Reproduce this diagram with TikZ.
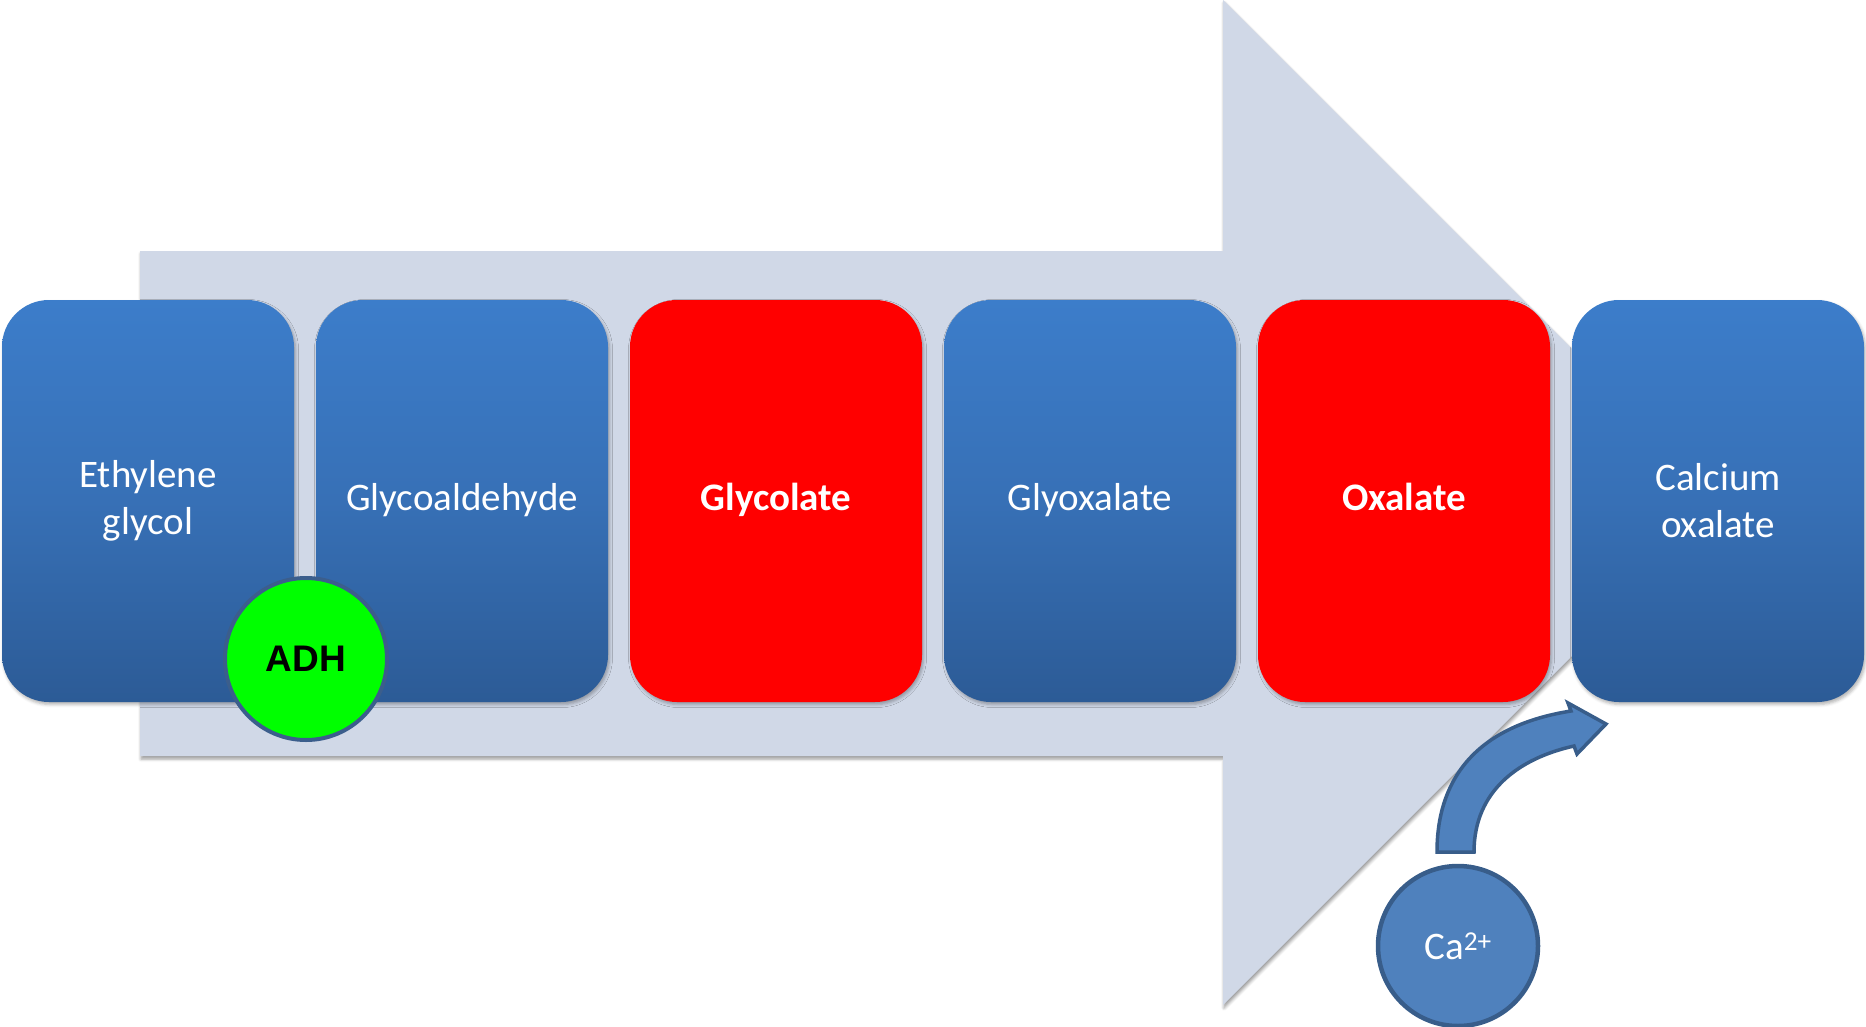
\documentclass[tikz,border=0pt]{standalone}
\usepackage{fontspec}
\setmainfont{Carlito}
\newfontfamily\adhfont{Liberation Sans}
\usetikzlibrary{shadows.blur}
\definecolor{arrowbg}{RGB}{208,216,231}
\definecolor{boxtop}{RGB}{60,125,202}
\definecolor{boxmid}{RGB}{55,112,182}
\definecolor{boxbot}{RGB}{44,91,150}
\definecolor{boxred}{RGB}{255,0,0}
\definecolor{adhgreen}{RGB}{0,255,0}
\definecolor{adhline}{RGB}{59,94,140}
\definecolor{cafill}{RGB}{79,129,189}
\definecolor{caline}{RGB}{56,93,138}
\begin{document}
\begin{tikzpicture}[x=1pt,y=-1pt,
  softshadow/.style={blur shadow={shadow xshift=1.5pt, shadow yshift=-2.5pt, shadow blur radius=3pt, shadow opacity=30}},
  stepbox/.style={rectangle, rounded corners=47pt, minimum width=292pt, minimum height=402pt,
    inner sep=0pt, align=center, text=white, font=\fontsize{39}{47}\selectfont, softshadow},
  oneline/.style={text height=28pt, text depth=9pt},
  twoline/.style={text height=30pt, text depth=57pt},
  bluebox/.style={stepbox, top color=boxtop, bottom color=boxbot, middle color=boxmid},
  redbox/.style={stepbox, fill=boxred, font=\fontsize{39}{47}\selectfont\bfseries},
  adhcircle/.style={circle, minimum size=162pt, inner sep=0pt, fill=adhgreen, draw=adhline, line width=4pt,
    text=black, font=\adhfont\fontsize{37}{40}\selectfont\bfseries},
  cacircle/.style={circle, minimum size=160pt, inner sep=0pt, fill=cafill, draw=caline, line width=4.5pt,
    text=white, font=\fontsize{39}{47}\selectfont},
  bigarrow/.style={fill=arrowbg, blur shadow={shadow xshift=1pt, shadow yshift=-3pt, shadow blur radius=3pt, shadow opacity=40}},
  bentarrow/.style={fill=cafill, draw=caline, line width=3.5pt, line join=miter}
]
\useasboundingbox (0,0) rectangle (1866,1027);

% big background arrow
\path[bigarrow] (140,251) -- (1223,251) -- (1223,0) -- (1725.5,502.5) -- (1223,1005) -- (1223,756) -- (140,756) -- cycle;

% steps
\node[bluebox] (eg)  at (148,501)  {Ethylene\\glycol};
\node[bluebox, oneline] (gad) at (462,501)  {Glycoaldehyde};
\node[redbox, oneline]  (gly) at (776,501)  {Glycolate};
\node[bluebox, oneline] (glx) at (1090,501) {Glyoxalate};
\node[redbox, oneline]  (oxa) at (1404,501) {Oxalate};
\node[bluebox] (cao) at (1718,501) {Calcium\\oxalate};

% enzyme
\node[adhcircle] (adh) at (306,659) {ADH};

% calcium ion and bent arrow
\node[cacircle] (ca) at (1458,946) {Ca\textsuperscript{2+}};
\path[bentarrow] (1437,852) .. controls (1437,785) and (1470,727) .. (1571,711)
  -- (1568,703) -- (1606,724) -- (1577,754) -- (1574,746)
  .. controls (1520,758) and (1474,790) .. (1474,852) -- cycle;
\end{tikzpicture}
\end{document}
